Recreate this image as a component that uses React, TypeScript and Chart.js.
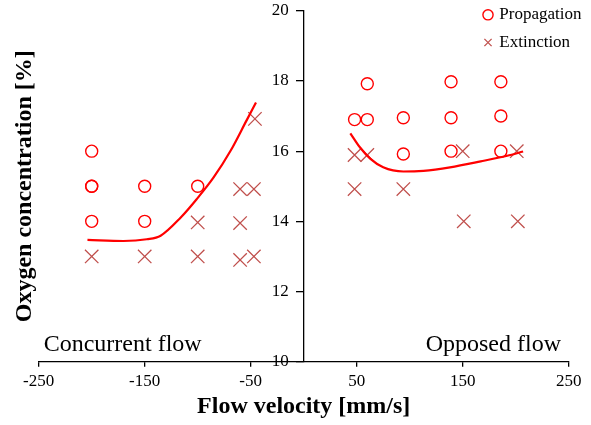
import React, { useEffect, useRef } from 'react';
import { Chart, registerables } from 'chart.js';

Chart.register(...registerables);

// ---- data ----
const propagationX = [-200, -200, -200, -200, -150, -150, -100, 48, 60, 60, 94, 94, 139, 139, 139, 186, 186, 186];
const propagationY = [16, 15, 15, 14, 15, 14, 15, 16.9, 16.9, 17.92, 16.95, 15.92, 17.98, 16.95, 16.0, 17.98, 17.0, 16.0];

const extinctionX = [-200, -150, -100, -60, -47, -100, -60, -60, -47, -46, 48, 60, 150, 201, 48, 94, 151, 202];
const extinctionY = [13, 13, 13, 12.9, 13, 13.97, 13.95, 14.92, 14.92, 16.92, 15.89, 15.89, 16.0, 16.0, 14.92, 14.92, 14.0, 14.0];

const concurrentCurveX = [-204, -170, -148, -135, -116, -101, -85, -69, -54, -45];
const concurrentCurveY = [13.47, 13.44, 13.49, 13.59, 14.11, 14.63, 15.25, 16.01, 16.87, 17.39];

const opposedCurveX = [44, 53, 63, 75, 94, 113, 138, 167, 192, 207];
const opposedCurveY = [16.51, 16.11, 15.78, 15.54, 15.42, 15.44, 15.54, 15.71, 15.87, 15.99];

const xTickValues = [-250, -150, -50, 50, 150, 250];
const yTickValues = [10, 12, 14, 16, 18, 20];

const seriesNames = ['Propagation', 'Extinction'];
const xTitle = 'Flow velocity [mm/s]';
const yTitle = 'Oxygen concentration [%]';
const leftNote = 'Concurrent flow';
const rightNote = 'Opposed flow';

const FAMILY = "'Liberation Serif', 'Times New Roman', serif";
const Y_TICK_LEN = 7;
const Y_LABEL_GAP = 8;

const pts = (xs: number[], ys: number[]) => xs.map((x, i) => ({ x, y: ys[i] }));

export default function App() {
  const ref = useRef<HTMLCanvasElement>(null);

  useEffect(() => {
    const canvas = ref.current;
    if (!canvas) return;

    const overlay = {
      id: 'overlay',
      beforeDraw(chart: any) {
        // place legend in the top-right corner, inside the plot
        const lg = chart.legend;
        if (lg) {
          const left = 474.5;
          const top = -4.4;
          lg.left = left;
          lg.top = top;
          lg.width = 116;
          lg.height = 90;
          lg.right = left + 116;
          lg.bottom = top + 90;
        }
        // move the centred y-axis labels to the left of its tick marks
        const ys = chart.scales.y;
        if (ys) {
          const items = ys.getLabelItems();
          if (!(items as any)._shifted) {
            items.forEach((it: any) => {
              it.options.translation[0] -= Y_TICK_LEN + Y_LABEL_GAP;
            });
            (items as any)._shifted = true;
          }
        }
      },
      afterDatasetsDraw(chart: any) {
        const { ctx, chartArea } = chart;
        ctx.save();
        ctx.font = `24px ${FAMILY}`;
        ctx.fillStyle = '#000';
        ctx.textBaseline = 'alphabetic';
        ctx.textAlign = 'left';
        ctx.fillText(leftNote, chartArea.left + 5, chartArea.bottom - 11);
        ctx.textAlign = 'right';
        ctx.fillText(rightNote, chartArea.right - 7.7, chartArea.bottom - 11);
        ctx.restore();
      },
    };

    const chart = new Chart(canvas, {
      type: 'scatter',
      data: {
        datasets: [
          {
            label: seriesNames[0],
            data: pts(propagationX, propagationY),
            pointStyle: 'circle',
            pointRadius: 6,
            borderColor: '#FF0000',
            backgroundColor: 'rgba(0,0,0,0)',
            borderWidth: 1.4,
            order: 1,
          },
          {
            label: seriesNames[1],
            data: pts(extinctionX, extinctionY),
            pointStyle: 'crossRot',
            pointRadius: 9.5,
            borderColor: '#C0504D',
            backgroundColor: 'rgba(0,0,0,0)',
            borderWidth: 1.3,
            order: 1,
          },
          {
            label: 'curve1',
            data: pts(concurrentCurveX, concurrentCurveY),
            showLine: true,
            pointRadius: 0,
            borderColor: '#FF0000',
            borderWidth: 2.2,
            cubicInterpolationMode: 'monotone',
            fill: false,
            order: 0,
          },
          {
            label: 'curve2',
            data: pts(opposedCurveX, opposedCurveY),
            showLine: true,
            pointRadius: 0,
            borderColor: '#FF0000',
            borderWidth: 2.2,
            cubicInterpolationMode: 'monotone',
            fill: false,
            order: 0,
          },
        ] as any,
      },
      options: {
        responsive: false,
        animation: false,
        events: [],
        layout: { padding: { left: 0, right: 22.3, top: 10.7, bottom: 0 } },
        scales: {
          x: {
            type: 'linear',
            position: 'bottom',
            min: -250,
            max: 250,
            afterBuildTicks: (scale: any) => {
              scale.ticks = xTickValues.map((v) => ({ value: v }));
            },
            grid: { display: true, drawOnChartArea: false, drawTicks: true, tickLength: 5, color: '#000', lineWidth: 1.3 },
            border: { display: true, color: '#000', width: 1.3 },
            ticks: {
              padding: 4.6,
              color: '#000',
              font: { family: FAMILY, size: 17 },
              maxRotation: 0,
              autoSkip: false,
              callback: (v: any) => String(v),
            },
            title: {
              display: true,
              text: xTitle,
              color: '#000',
              font: { family: FAMILY, size: 24, weight: 'bold' },
              padding: { top: -3.8, bottom: 3.7 },
            },
          },
          y: {
            type: 'linear',
            position: { x: 0 } as any,
            min: 10,
            max: 20,
            afterBuildTicks: (scale: any) => {
              scale.ticks = yTickValues.map((v) => ({ value: v }));
            },
            grid: { display: true, drawOnChartArea: false, drawTicks: true, tickLength: Y_TICK_LEN, color: '#000', lineWidth: 1.3 },
            border: { display: true, color: '#000', width: 1.3 },
            ticks: {
              padding: 0,
              color: '#000',
              font: { family: FAMILY, size: 17 },
              callback: (v: any) => String(v),
            },
            title: { display: false },
          },
          yTitleAxis: {
            type: 'linear',
            position: 'left',
            display: true,
            min: 10,
            max: 20,
            grid: { display: false, drawTicks: false, drawOnChartArea: false },
            border: { display: false },
            ticks: { display: false },
            title: {
              display: true,
              text: yTitle,
              color: '#000',
              font: { family: FAMILY, size: 24, weight: 'bold' },
              padding: { top: 10.5, bottom: -0.6 },
            },
          },
        } as any,
        plugins: {
          tooltip: { enabled: false },
          legend: {
            display: true,
            position: 'chartArea' as any,
            align: 'start',
            labels: {
              usePointStyle: true,
              boxWidth: 5.6,
              boxHeight: 7.2,
              padding: 10.7,
              color: '#000',
              font: { family: FAMILY, size: 17 },
              filter: (item: any) => item.datasetIndex < 2,
            },
          },
        },
      },
      plugins: [overlay],
    });

    return () => chart.destroy();
  }, []);

  return (
    <div style={{ position: 'fixed', left: 0, top: 0, width: 591, height: 425, background: '#fff' }}>
      <canvas ref={ref} width={591} height={425} style={{ display: 'block' }} />
    </div>
  );
}
